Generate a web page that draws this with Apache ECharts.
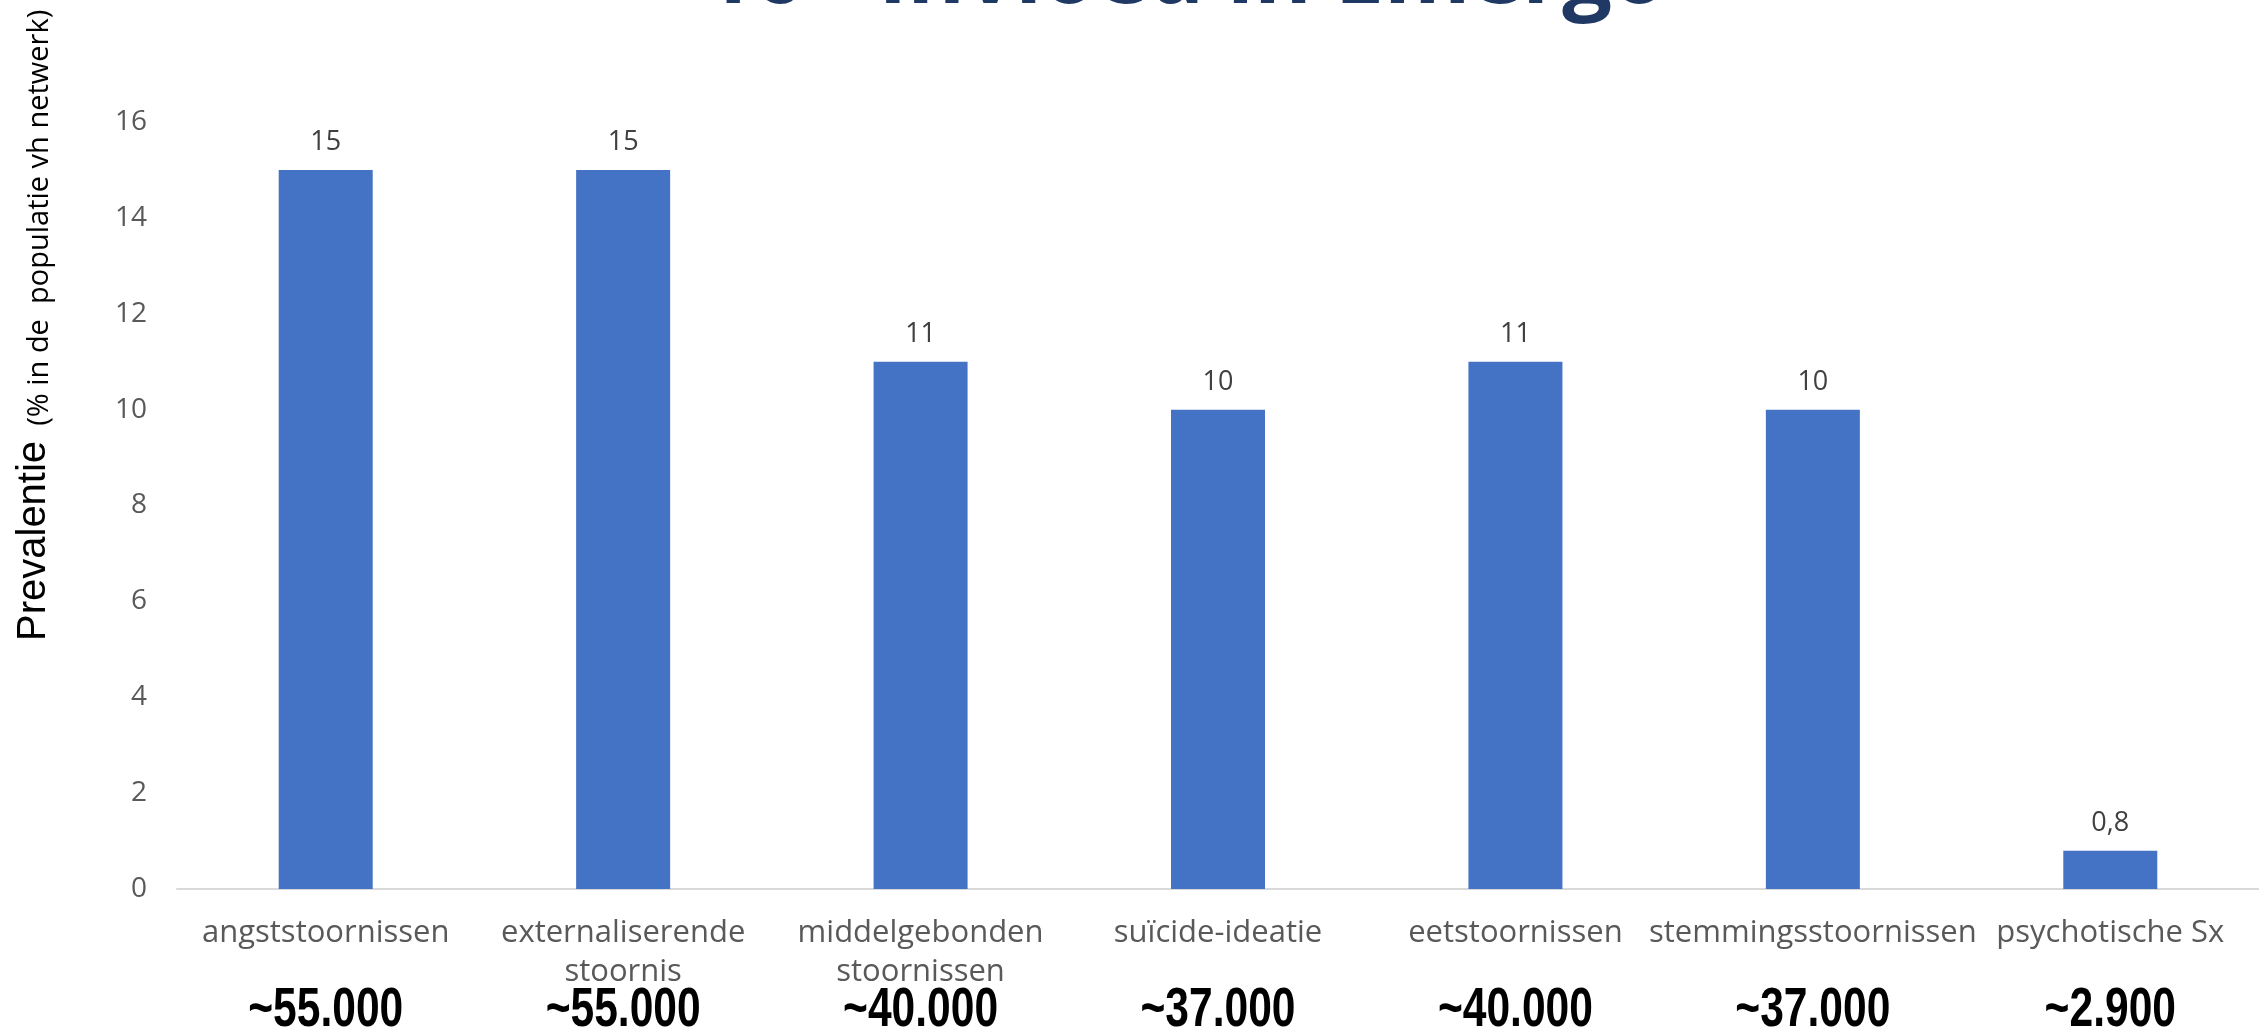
<!DOCTYPE html>
<html>
<head>
<meta charset="utf-8">
<script src="https://cdn.jsdelivr.net/npm/echarts@6/dist/echarts.min.js"></script>
<style>html,body{margin:0;padding:0;background:#fff}#c{width:2259px;height:1027px}</style>
</head>
<body>
<div id="c"></div>
<script>
const categories = ["angststoornissen", "externaliserende\nstoornis", "middelgebonden\nstoornissen", "suïcide-ideatie", "eetstoornissen", "stemmingsstoornissen", "psychotische Sx"];
const prevalence = [15, 15, 11, 10, 11, 10, 0.8];
const population = ["~55.000", "~55.000", "~40.000", "~37.000", "~40.000", "~37.000", "~2.900"];
const yTicks = { min: 0, max: 16, interval: 2 };
const titleText = "16 - Invloed in Emergo";
const yTitleMain = "Prevalentie";
const yTitleSub = "(% in de  populatie vh netwerk)";

const chart = echarts.init(document.getElementById('c'), null, { renderer: 'canvas' });
chart.setOption({
  animation: false,
  backgroundColor: '#ffffff',
  grid: { left: 177, right: -18, top: 122, bottom: 138, containLabel: false },
  graphic: [
    { type: 'text', x: 1185, y: -66, z: 10,
      style: { text: titleText, font: 'bold 88px "Open Sans", sans-serif', fill: '#1F3864',
        textAlign: 'center', textVerticalAlign: 'top' } },
    { type: 'text', x: 54, y: 641, rotation: Math.PI / 2, z: 10,
      style: { text: '{a|' + yTitleMain + '}{b|  ' + yTitleSub + '}', align: 'left', verticalAlign: 'bottom',
        rich: {
          a: { fontSize: 40, fontFamily: '"Liberation Sans", sans-serif', fill: '#000', color: '#000', verticalAlign: 'bottom' },
          b: { fontSize: 29, fontFamily: '"Open Sans", sans-serif', fill: '#000', color: '#000', verticalAlign: 'bottom' }
        } } }
  ],
  xAxis: [
    { type: 'category', data: categories, position: 'bottom',
      axisLine: { show: true, lineStyle: { color: '#d9d9d9', width: 2 } },
      axisTick: { show: false },
      axisLabel: { interval: 0, margin: 25, color: '#595959', fontSize: 31, lineHeight: 39,
        fontFamily: '"Open Sans", sans-serif' } }
  ],
  yAxis: {
    type: 'value', min: yTicks.min, max: yTicks.max, interval: yTicks.interval,
    axisLine: { show: false }, axisTick: { show: false }, splitLine: { show: false },
    axisLabel: { margin: 30, color: '#595959', fontSize: 28, fontFamily: '"Open Sans", sans-serif' }
  },
  series: [{
    type: 'bar', xAxisIndex: 0, data: prevalence, barWidth: 94,
    itemStyle: { color: '#4472C4' },
    label: { show: true, position: 'top', distance: 14, color: '#404040', fontSize: 27,
      fontFamily: '"Open Sans", sans-serif',
      formatter: p => String(p.value).replace('.', ',') }
  }, {
    type: 'custom', xAxisIndex: 0, silent: true,
    data: population.map((t, i) => [i, 0]),
    renderItem: function (params, api) {
      const pt = api.coord([api.value(0), 0]);
      return {
        type: 'text', x: pt[0], y: pt[1] + 122, scaleX: 0.76,
        style: { text: population[params.dataIndex], font: 'bold 56px "Liberation Sans", sans-serif',
          fill: '#000', textAlign: 'center', textVerticalAlign: 'middle' }
      };
    }
  }]
});
</script>
</body>
</html>
